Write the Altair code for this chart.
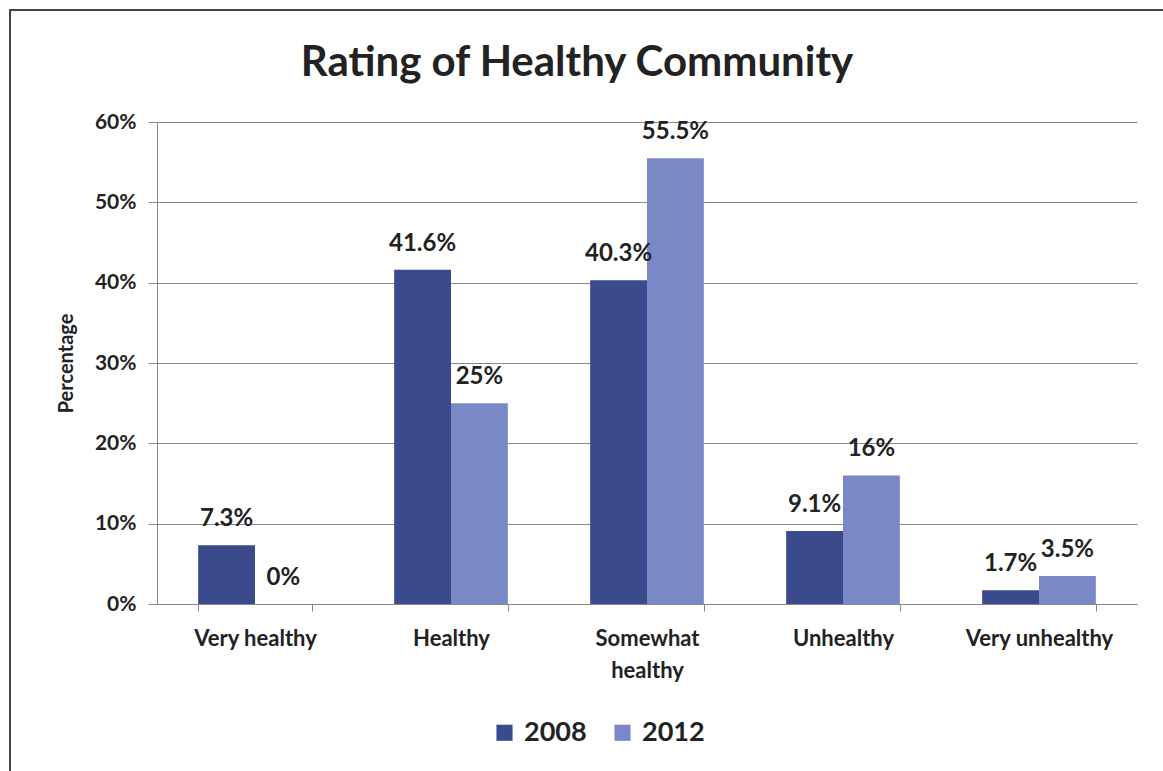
import altair as alt
import pandas as pd

categories = ["Very healthy", "Healthy", "Somewhat healthy", "Unhealthy", "Very unhealthy"]
years = ["2008", "2012"]
values_2008 = [7.3, 41.6, 40.3, 9.1, 1.7]
values_2012 = [0, 25, 55.5, 16, 3.5]
y_ticks = [0, 10, 20, 30, 40, 50, 60]
colors = ["#3A4A8C", "#7B88C6"]

rows = []
for c, a, b in zip(categories, values_2008, values_2012):
    rows.append({"category": c, "year": "2008", "value": a, "label": f"{a:g}%"})
    rows.append({"category": c, "year": "2012", "value": b, "label": f"{b:g}%"})
df = pd.DataFrame(rows)

FONT = "Lato"

x_enc = alt.X(
    "category:N", sort=categories, title=None,
    scale=alt.Scale(paddingInner=0.42, paddingOuter=0.21),
    axis=alt.Axis(
        labelExpr="datum.value == 'Somewhat healthy' ? ['Somewhat', 'healthy'] : datum.value",
        labelAngle=0, labelFont=FONT, labelFontWeight="bold", labelFontSize=22,
        labelColor="#222", labelPadding=17, labelLineHeight=32,
        tickBand="extent", ticks=True, tickSize=7, tickColor="#888",
        domainColor="#888", grid=False,
    ),
)

y_enc = alt.Y(
    "value:Q", title="Percentage",
    scale=alt.Scale(domain=[0, 60], nice=False),
    axis=alt.Axis(
        values=y_ticks, labelExpr="datum.value + '%'",
        labelFont=FONT, labelFontWeight="bold", labelFontSize=21, labelColor="#222",
        labelPadding=12, tickSize=9, tickColor="#888", domainColor="#888",
        gridColor="#8a8a8a", gridWidth=1,
        titleFont=FONT, titleFontWeight="bold", titleFontSize=20, titleColor="#222",
        titlePadding=18,
    ),
)

base = alt.Chart(df).encode(
    x=x_enc,
    xOffset=alt.XOffset("year:N", sort=years),
)

bars = base.mark_bar().encode(
    y=y_enc,
    color=alt.Color(
        "year:N", sort=years, title=None,
        scale=alt.Scale(domain=years, range=colors),
        legend=alt.Legend(
            orient="none", direction="horizontal", legendX=334, legendY=597,
            symbolType="square", symbolSize=260, symbolStrokeWidth=0,
            labelFont=FONT, labelFontWeight="bold", labelFontSize=27, labelColor="#222",
            columnPadding=22, labelOffset=6,
        ),
    ),
)

labels = base.mark_text(
    baseline="alphabetic", dy=-19, font=FONT, fontWeight="bold", fontSize=24, color="#222"
).encode(
    y=alt.Y("value:Q"),
    text="label:N",
)

frame = alt.Chart(pd.DataFrame({"a": [0]})).mark_rect(
    fill=None, stroke="#444", strokeWidth=2
).encode(
    x=alt.value(-147), x2=alt.value(1030),
    y=alt.value(-112), y2=alt.value(680),
)

chart = alt.layer(frame, bars, labels).properties(
    width=980, height=482,
    autosize=alt.AutoSizeParams(type="none"),
    padding={"left": 157, "top": 122, "right": 26, "bottom": 167},
    background="white",
    title=alt.TitleParams(
        "Rating of Healthy Community", font=FONT, fontWeight="bold", fontSize=42,
        color="#222", anchor="middle", dx=-70, offset=-109, baseline="alphabetic",
    ),
).configure_view(stroke=None)

chart.save("out.html", embed_options={"renderer": "svg", "actions": False})
